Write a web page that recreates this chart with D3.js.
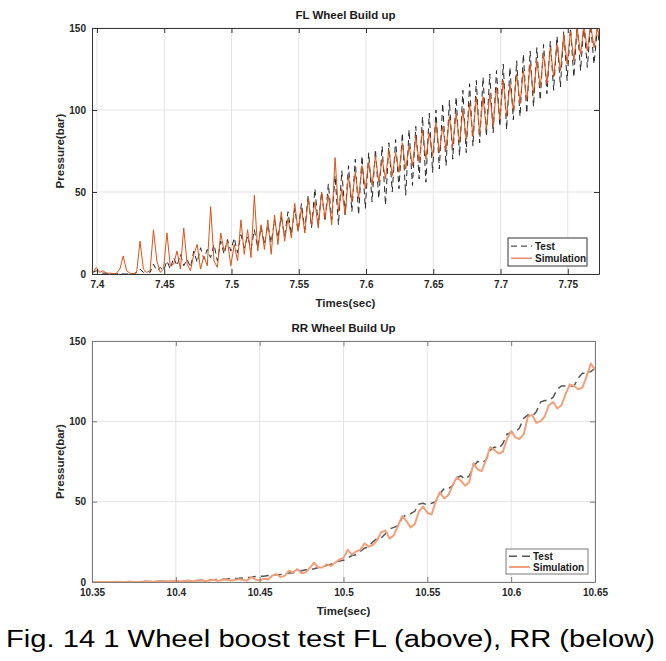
<!DOCTYPE html>
<html><head><meta charset="utf-8">
<script src="https://cdn.jsdelivr.net/npm/d3@7"></script>
<style>body{margin:0;background:#fff}svg{display:block}</style>
</head><body>
<svg id="c" width="666" height="661"></svg>
<script>
// ---------- DATA ----------
// Top panel (FL): sampled every 0.0025 s starting at 7.397 s
const flStart = 7.397, flStep = 0.0025;
const flTest = [1,2,1,0.5,0.5,0,0,0,0.5,0,0,0.5,0,1,3,1,2,1,6,2,4,2,8,3,10,5,12,5,9,4,14,7,16,9,15,10,18,8,20,12,21,14,22,13,24,16,23,15,27,16,29,18,30,19,33,22,35,23,38,24,40,26,43,27,48,28,52,30,50,32,55,33,60,30,63,36,66,38,70,36,72,40,74,44,76,46,78,42,80,50,82,52,86,48,88,54,90,58,96,56,98,62,100,64,104,66,106,70,108,72,112,74,116,78,118,80,120,84,122,86,124,90,128,88,126,94,130,96,134,98,136,102,138,106,140,110,142,112,145,114,148,118,150,120,152,124,152,126,152,128,150,132];
const flSim = [1,4,1,2,0.5,0.5,0,0.5,3,11,2,0.5,0,1,20,3,1,2,27,8,1,3,25,5,6,14,3,28,6,2,12,18,3,11,5,41,8,4,25,14,20,5,18,8,33,12,27,10,48,14,30,15,33,12,36,18,38,20,34,22,43,26,40,25,46,30,44,28,50,34,48,30,71,38,52,36,60,44,62,46,66,52,68,54,72,56,70,58,76,60,74,62,80,64,78,66,84,68,88,70,86,72,92,74,90,76,96,78,98,80,100,82,104,84,108,86,108,88,110,90,114,94,118,96,116,100,122,104,124,106,128,110,130,114,134,116,138,120,140,124,146,128,148,130,150,134,152,136,152,138,150,140];
// Bottom panel (RR): sampled every 0.0025 s starting at 10.35 s
const rrStart = 10.35, rrStep = 0.0025;
const rrTest = [0,0,0,0,0,0,0,0,0,0,0.2,0.2,0.2,0.3,0.3,0.3,0.4,0.4,0.5,0.5,0.6,0.6,0.7,0.8,0.8,0.9,1.0,1.0,1.2,1.4,1.6,1.7,1.8,2.0,2.2,2.3,2.5,2.7,3.0,3.4,3.5,3.6,4.0,4.4,4.5,4.7,5.2,5.6,5.8,6.0,7.0,7.6,7.8,8.2,9.0,9.8,10.2,11,12.5,13,13.5,15,16.5,17,19,21,22,25,27,27.5,30,33,34,35,40,42,42.5,44,48.5,49,48,49,50,55,58,58,60,65,66,64,66,72,75,74,76,82,84,83,86,92,93,93,96,102,104,103,106,112,113,113,115,120,122,122,122,122,127,130,130,131,133];
const rrSim = [0,0,0,0,0,0,0.2,0,0,0.3,0,0,0.2,0.4,0,0.3,0.5,0.2,0.6,0.3,0.8,0.4,0.6,1.0,0.5,0.8,1.2,0.6,1.0,1.4,0.8,1.2,1.5,1.0,1.3,1.8,1.2,1.0,3,1.5,1,2,1.5,4,5,3,4,7,6,8,5.5,6,9,12,9,9,11,10,12,14,15,20,17,19,20,24,22,23,26,31,32,27,29,35,41,38,34,36,44,47,43,42,50,56,52,54,60,65,63,60,62,74,70,69,76,84,82,80,81,89,94,90,89,92,103,104,99,100,103,110,112,108,110,117,123,122,120,121,128,136,132];
const flXTicks = [7.4,7.45,7.5,7.55,7.6,7.65,7.7,7.75];
const rrXTicks = [10.35,10.4,10.45,10.5,10.55,10.6,10.65];
const yTicks = [0,50,100,150];
const seriesNames = ["Test","Simulation"];

// ---------- DRAW ----------
const svg = d3.select("#c");
const FONT = "'Liberation Sans', Arial, sans-serif";

function panel(cfg){
  const g = svg.append("g");
  const x = d3.scaleLinear().domain(cfg.xDomain).range([cfg.left, cfg.right]);
  const y = d3.scaleLinear().domain([0,150]).range([cfg.bottom, cfg.top]);
  const id = "clip"+cfg.key;
  svg.append("clipPath").attr("id", id).append("rect")
    .attr("x", cfg.left).attr("y", cfg.top).attr("width", cfg.right-cfg.left).attr("height", cfg.bottom-cfg.top);
  // grid
  g.selectAll(".gx").data(cfg.xTicks).join("line")
    .attr("x1", d=>x(d)).attr("x2", d=>x(d)).attr("y1", cfg.top).attr("y2", cfg.bottom)
    .attr("stroke", "#e3e3e3").attr("stroke-width", 1);
  g.selectAll(".gy").data(yTicks).join("line")
    .attr("x1", cfg.left).attr("x2", cfg.right).attr("y1", d=>y(d)).attr("y2", d=>y(d))
    .attr("stroke", "#e3e3e3").attr("stroke-width", 1);
  // lines
  const line = d3.line().x(d=>x(d[0])).y(d=>y(d[1]));
  const mk = (arr, start, step) => arr.map((v,i)=>[start+i*step, v]);
  const lines = g.append("g").attr("clip-path", `url(#${id})`);
  lines.append("path").datum(mk(cfg.test, cfg.start, cfg.step)).attr("d", line)
    .attr("fill","none").attr("stroke", cfg.testColor).attr("stroke-width", cfg.testW)
    .attr("stroke-dasharray", cfg.dash);
  lines.append("path").datum(mk(cfg.sim, cfg.start, cfg.step)).attr("d", line)
    .attr("fill","none").attr("stroke", cfg.simColor).attr("stroke-width", cfg.simW)
    .attr("stroke-linejoin","round");
  // axes (inward ticks, box)
  const ax = g.append("g");
  ax.append("g").attr("transform", `translate(0,${cfg.bottom})`)
    .call(d3.axisBottom(x).tickValues(cfg.xTicks).tickSizeInner(-5).tickSizeOuter(0).tickPadding(7).tickFormat(d3.format("")));
  ax.append("g").attr("transform", `translate(0,${cfg.top})`)
    .call(d3.axisTop(x).tickValues(cfg.xTicks).tickSizeInner(-5).tickSizeOuter(0).tickFormat(""));
  ax.append("g").attr("transform", `translate(${cfg.left},0)`)
    .call(d3.axisLeft(y).tickValues(yTicks).tickSizeInner(-5).tickSizeOuter(0).tickPadding(6));
  ax.append("g").attr("transform", `translate(${cfg.right},0)`)
    .call(d3.axisRight(y).tickValues(yTicks).tickSizeInner(-5).tickSizeOuter(0).tickFormat(""));
  ax.selectAll(".domain").attr("stroke", cfg.axisColor);
  ax.selectAll(".tick line").attr("stroke", cfg.axisColor);
  ax.selectAll(".tick text").attr("font-family", FONT).attr("font-size", 10).attr("font-weight","bold").attr("fill","#262626");
  // titles
  g.append("text").attr("x", (cfg.left+cfg.right)/2).attr("y", cfg.top-9).attr("text-anchor","middle")
    .attr("font-family",FONT).attr("font-size",11.5).attr("font-weight","bold").attr("fill","#1a1a1a").text(cfg.title);
  g.append("text").attr("x", (cfg.left+cfg.right)/2).attr("y", cfg.bottom+33).attr("text-anchor","middle")
    .attr("font-family",FONT).attr("font-size",11.5).attr("font-weight","bold").attr("fill","#262626").text(cfg.xlabel);
  g.append("text").attr("transform", `translate(64,${(cfg.top+cfg.bottom)/2}) rotate(-90)`).attr("text-anchor","middle")
    .attr("font-family",FONT).attr("font-size",11.5).attr("font-weight","bold").attr("fill","#262626").text("Pressure(bar)");
  // legend
  const L = cfg.legend;
  const lg = g.append("g");
  lg.append("rect").attr("x",L.x).attr("y",L.y).attr("width",L.w).attr("height",L.h)
    .attr("fill","#fff").attr("stroke", cfg.axisColor).attr("stroke-width",1);
  const rows = [{n:seriesNames[0], c:cfg.testColor, w:cfg.testW, d:cfg.dash},{n:seriesNames[1], c:cfg.simColor, w:cfg.simW, d:null}];
  rows.forEach((r,i)=>{
    const yy = L.y + L.h*(i===0?0.29:0.72);
    lg.append("line").attr("x1",L.x+3).attr("x2",L.x+24).attr("y1",yy).attr("y2",yy)
      .attr("stroke",r.c).attr("stroke-width",r.w).attr("stroke-dasharray",r.d);
    lg.append("text").attr("x",L.x+27).attr("y",yy+3.5).attr("font-family",FONT).attr("font-size",10)
      .attr("font-weight","bold").attr("fill","#1a1a1a").text(r.n);
  });
}

panel({key:"fl", left:92, right:599, top:28, bottom:274,
  xDomain:[7.3963, 7.7732], xTicks:flXTicks, start:flStart, step:flStep,
  test:flTest, sim:flSim, testColor:"#262626", testW:1, dash:"6,4",
  simColor:"#D95319", simW:1, axisColor:"#333",
  title:"FL Wheel Build up", xlabel:"Times(sec)",
  legend:{x:508, y:238, w:79, h:28}});

panel({key:"rr", left:92, right:595, top:341, bottom:582,
  xDomain:[10.35, 10.65], xTicks:rrXTicks, start:rrStart, step:rrStep,
  test:rrTest, sim:rrSim, testColor:"#555", testW:1.5, dash:"8,5",
  simColor:"#F0A07A", simW:2, axisColor:"#7a7a7a",
  title:"RR Wheel Build Up", xlabel:"Time(sec)",
  legend:{x:506, y:549, w:82, h:25}});

// caption
svg.append("text").attr("x",6).attr("y",647).attr("font-family","'Liberation Sans Narrow','Liberation Sans',Arial,sans-serif")
  .attr("font-size",23).attr("fill","#000").attr("textLength",649).attr("lengthAdjust","spacingAndGlyphs")
  .text("Fig. 14 1 Wheel boost test FL (above), RR (below)");
</script>
</body></html>
